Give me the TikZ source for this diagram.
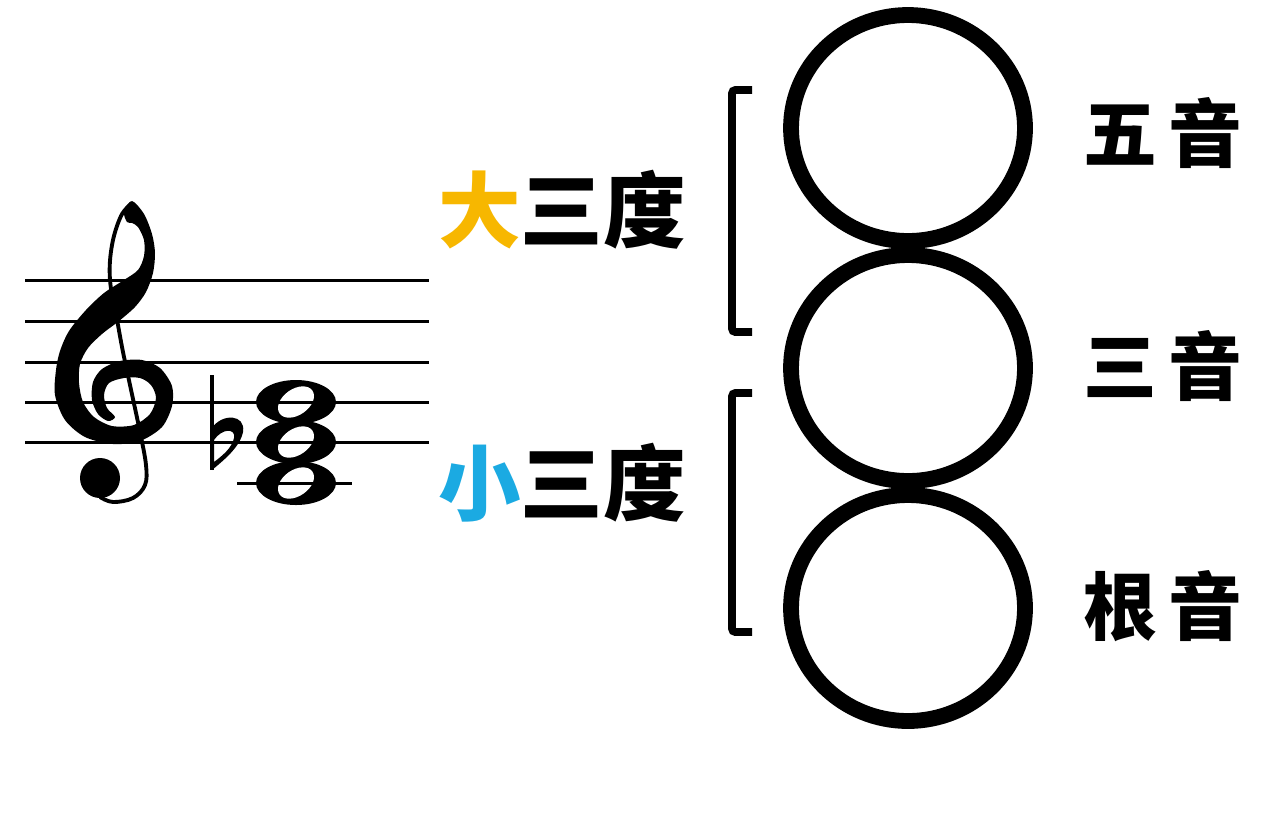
\documentclass[tikz,border=0pt]{standalone}
\usepackage{fontspec}
\usetikzlibrary{shapes.geometric}
\newfontfamily\cjk{Noto Sans CJK SC}
\definecolor{majorcol}{RGB}{247,183,0}
\definecolor{minorcol}{RGB}{27,170,226}
\tikzset{
  staffline/.style={line width=1.7pt},
  interval/.style={font=\cjk\bfseries\fontsize{47}{50}\selectfont, inner sep=0pt},
  tone/.style={font=\cjk\bfseries\fontsize{42}{46}\selectfont, inner sep=0pt},
  chordtone/.style={draw, ellipse, line width=9pt, minimum width=4.68cm, minimum height=4.52cm, inner sep=0pt},
  bracketline/.style={line width=4.5pt, rounded corners=2pt},
}
\begin{document}
\begin{tikzpicture}[x=0.02cm, y=-0.02cm]
    \useasboundingbox[fill=white] (0,0) rectangle (1273,833);

    % Whole notes of the chord
    \foreach \y in {402,442,483} {
        \fill (296,\y) ellipse [x radius=40, y radius=22];
        \fill[white, rotate around={35:(296,\y)}] (296,\y) ellipse [x radius=20, y radius=13];
    }

    % Staff and ledger line
    \foreach \y in {280,321,362,402,442}
        \draw[staffline] (25,\y) -- (429,\y);
    \draw[staffline] (237,483) -- (352,483);

    % Treble clef: thick body
    \fill plot[smooth cycle, tension=0.5] coordinates {
        (132,201) (144,214) (152,234) (155,253) (153,273) (146,292) (135,307)
        (119,321) (102,334) (88,348) (80,364) (79,383) (83,402) (94,417)
        (112,426) (134,425) (150,414) (156,398) (151,385) (140,378) (124,378)
        (109,383) (104,395) (107,408) (115,417) (108,421) (98,414) (92,400)
        (93,382) (102,369) (120,361) (142,360) (160,368) (172,386) (172,406)
        (162,427) (140,441) (113,444) (85,437) (65,420) (55,395) (56,370)
        (60,351) (69,331) (86,310) (104,293) (124,280) (138,270) (144,256)
        (144,240) (138,227) (132,223) (127,222) (124,212)};
    % Treble clef: thin loop side and stem
    \draw[line width=2.2pt] plot[smooth, tension=0.6] coordinates {
        (132,203) (121,216) (112,245) (110,280) (118,325) (123,352) (130,385)
        (140,432) (146,465) (145,485) (133,498) (113,502) (100,497)};
    \fill (100,478) circle [radius=20];

    % Flat
    \draw[line width=1.8pt] (212,375) -- (212,470);
    \fill[even odd rule] (212,428) .. controls (222,413) and (246,414) .. (243,432) .. controls (240,447) and (224,460) .. (212,470) -- cycle
        (214,440) .. controls (222,428) and (236,428) .. (234,438) .. controls (232,448) and (222,456) .. (214,462) -- cycle;

    % Brackets
    \draw[bracketline] (752,90) -- (732,90) -- (732,332) -- (752,332);
    \draw[bracketline] (752,393) -- (732,393) -- (732,632) -- (752,632);

    % Chord tones
    \node[chordtone] (fifth) at (908,128) {};
    \node[chordtone] (third) at (908,368) {};
    \node[chordtone] (root) at (908,608) {};

    % Interval labels
    \node[interval] (major) at (562,210) {\textcolor{majorcol}{大}三度};
    \node[interval] (minor) at (562,483) {\textcolor{minorcol}{小}三度};

    % Tone names
    \node[tone] (fifthname) at (1163,133) {五\hspace{6pt}音};
    \node[tone] (thirdname) at (1163,366) {三\hspace{6pt}音};
    \node[tone] (rootname) at (1163,606) {根\hspace{6pt}音};

\end{tikzpicture}
\end{document}
